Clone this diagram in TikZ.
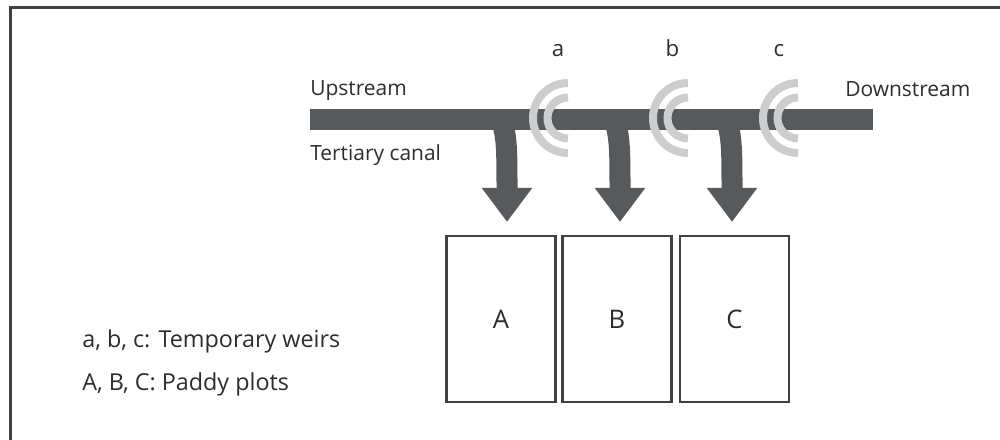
\documentclass[tikz,border=0pt]{standalone}
\usepackage{fontspec}
\setmainfont{Open Sans}
\usepackage{xcolor}
\usetikzlibrary{arrows.meta}
\definecolor{water}{HTML}{58595B}
\definecolor{weirgray}{HTML}{CCCDCF}
\definecolor{rule}{HTML}{414042}
\definecolor{ink}{HTML}{2D2D2E}

\begin{document}
\begin{tikzpicture}[
    x=0.025cm, y=-0.025cm,
    every node/.style={text=ink, inner sep=0pt},
    tag/.style={font=\fontsize{14.9}{18}\selectfont, anchor=base west},
    weirtag/.style={font=\fontsize{15.8}{19}\selectfont, anchor=base},
    legend/.style={font=\fontsize{16.6}{20}\selectfont, anchor=base west},
    canalbar/.style={fill=water, minimum width=14.075cm, minimum height=0.525cm},
    flow/.style={draw=water, line width=0.525cm,
                 -{Triangle[width=1.2cm,length=0.85cm]}},
    weir/.style={draw=weirgray, line width=0.2cm},
    plot/.style={draw=rule, line width=0.0625cm, minimum width=2.725cm,
                 minimum height=4.15cm, font=\fontsize{18.2}{22}\selectfont}
  ]
  \useasboundingbox (0,0) rectangle (1000,440);

  % frame (only top and left side fall in the picture)
  \draw[rule, line width=0.075cm] (10.5,440) -- (10.5,7.5) -- (1000,7.5);

  % canal
  \node[canalbar] (canal) at (591.5,119.5) {};

  % plots
  \node[plot] (pA) at (501,319)   {A};
  \node[plot] (pB) at (617,319)   {B};
  \node[plot] (pC) at (734.5,319) {C};

  % flow into the plots
  \foreach \x/\p in {507/A,620/B,732/C} {
    \coordinate (in\p)  at (\x-7,118);
    \coordinate (out\p) at (\x,222);
    \draw[flow] (in\p) .. controls (\x,132) and (\x,150) .. (out\p);
  }

  % weirs
  \coordinate (wa) at (568,118);
  \coordinate (wb) at (688,118);
  \coordinate (wc) at (798,118);
  \foreach \w in {wa,wb,wc} {
    \draw[weir] (\w) ++(0,20.5) arc[start angle=90,end angle=270,radius=20.5];
    \draw[weir] (\w) ++(0,35) arc[start angle=90,end angle=270,radius=35];
  }

  % labels
  \node[tag] (up)   at (310,96)   {Upstream};
  \node[tag] (down) at (845,96.5) {Downstream};
  \node[tag] (tert) at (310,160)  {Tertiary canal};
  \node[weirtag] (la) at (558,56.5) {a};
  \node[weirtag] (lb) at (672.5,56.5) {b};
  \node[weirtag] (lc) at (779,56.5) {c};

  % legend
  \node[legend] (leg1) at (82,347.5) {a, b, c: Temporary weirs};
  \node[legend] (leg2) at (82,390.5) {A, B, C: Paddy plots};

\end{tikzpicture}
\end{document}
